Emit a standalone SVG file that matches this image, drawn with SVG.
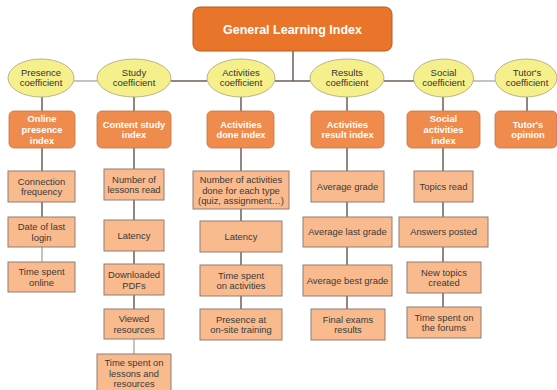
<svg xmlns="http://www.w3.org/2000/svg" width="557" height="390" viewBox="0 0 557 390">
<style>
.bg{fill:#ffffff}
.top{fill:#e8752a;stroke:#b85a1c;stroke-width:1}
.ell{fill:#f5f08c;stroke:#a8a27a;stroke-width:0.8}
.idx{fill:#ef8b4d;stroke:#c9723c;stroke-width:0.8}
.box{fill:#f9ba8d;stroke:#8f7f74;stroke-width:1}
.ln{stroke:#6e5e57;stroke-width:1.5;fill:none}
.lt{stroke:#b6aea9;stroke-width:1.5;fill:none}
text{font-family:"Liberation Sans",Arial,sans-serif;text-anchor:middle}
.tt{font-size:12.5px;font-weight:bold;fill:#ffffff}
.et{font-size:9.5px;fill:#333333}
.it{font-size:9.3px;font-weight:bold;fill:#ffffff}
.bt{font-size:9.4px;fill:#3a3a3a}
</style>
<rect class="bg" x="0" y="0" width="557" height="390"/>
<g id="connectors">
<line class="ln" x1="293" y1="51" x2="293" y2="81"/>
<line class="lt" x1="74" y1="81" x2="97" y2="81"/>
<line class="ln" x1="171" y1="81" x2="207" y2="81"/>
<line class="ln" x1="275" y1="81" x2="310" y2="81"/>
<line class="ln" x1="384" y1="81" x2="414" y2="81"/>
<line class="lt" x1="473" y1="81" x2="495" y2="81"/>
<line class="ln" x1="42" y1="97" x2="42" y2="111"/>
<line class="ln" x1="42" y1="148" x2="42" y2="171"/>
<line class="ln" x1="42" y1="202" x2="42" y2="217"/>
<line class="lt" x1="42" y1="247" x2="42" y2="262"/>
<line class="ln" x1="134" y1="97" x2="134" y2="111"/>
<line class="ln" x1="134" y1="148" x2="134" y2="169"/>
<line class="ln" x1="134" y1="200" x2="134" y2="220"/>
<line class="ln" x1="134" y1="251" x2="134" y2="264"/>
<line class="ln" x1="134" y1="295" x2="134" y2="309"/>
<line class="lt" x1="134" y1="339" x2="134" y2="354"/>
<line class="ln" x1="241" y1="97" x2="241" y2="111"/>
<line class="ln" x1="241" y1="148" x2="241" y2="171"/>
<line class="ln" x1="241" y1="209" x2="241" y2="221"/>
<line class="ln" x1="241" y1="252" x2="241" y2="265"/>
<line class="ln" x1="241" y1="296" x2="241" y2="309"/>
<line class="ln" x1="347" y1="97" x2="347" y2="111"/>
<line class="ln" x1="347" y1="148" x2="347" y2="171"/>
<line class="ln" x1="347" y1="202" x2="347" y2="217"/>
<line class="ln" x1="347" y1="247" x2="347" y2="265"/>
<line class="ln" x1="347" y1="296" x2="347" y2="309"/>
<line class="ln" x1="443" y1="97" x2="443" y2="111"/>
<line class="ln" x1="443" y1="148" x2="443" y2="171"/>
<line class="ln" x1="443" y1="202" x2="443" y2="217"/>
<line class="ln" x1="443" y1="247" x2="443" y2="262"/>
<line class="ln" x1="443" y1="293" x2="443" y2="307"/>
<line class="ln" x1="527" y1="97" x2="527" y2="111"/>
</g>
<g id="general">
<rect class="top" x="193" y="7" width="199" height="44" rx="7"/>
<text class="tt" x="292.5" y="33.5">General Learning Index</text>
</g>
<g id="presence-coef"><ellipse class="ell" cx="41" cy="78" rx="33" ry="19"/><text class="et" x="41" y="75.5">Presence</text><text class="et" x="41" y="86.3">coefficient</text></g>
<g id="study-coef"><ellipse class="ell" cx="134" cy="78" rx="37" ry="19"/><text class="et" x="134" y="75.5">Study</text><text class="et" x="134" y="86.3">coefficient</text></g>
<g id="activities-coef"><ellipse class="ell" cx="241" cy="78" rx="34" ry="19"/><text class="et" x="241" y="75.5">Activities</text><text class="et" x="241" y="86.3">coefficient</text></g>
<g id="results-coef"><ellipse class="ell" cx="347" cy="78" rx="37" ry="19"/><text class="et" x="347" y="75.5">Results</text><text class="et" x="347" y="86.3">coefficient</text></g>
<g id="social-coef"><ellipse class="ell" cx="443.5" cy="78" rx="30" ry="19"/><text class="et" x="443.5" y="75.5">Social</text><text class="et" x="443.5" y="86.3">coefficient</text></g>
<g id="tutor-coef"><ellipse class="ell" cx="526" cy="78" rx="31" ry="19"/><text class="et" x="527" y="75.5">Tutor's</text><text class="et" x="527" y="86.3">coefficient</text></g>
<g id="online-presence"><rect class="idx" x="9" y="111" width="66" height="37" rx="5"/><text class="it" x="42" y="122.3">Online</text><text class="it" x="42" y="133">presence</text><text class="it" x="42" y="143.7">index</text></g>
<g id="content-study"><rect class="idx" x="97" y="111" width="74" height="37" rx="5"/><text class="it" x="134" y="127.6">Content study</text><text class="it" x="134" y="138.3">index</text></g>
<g id="activities-done"><rect class="idx" x="207" y="111" width="67" height="37" rx="5"/><text class="it" x="241" y="127.6">Activities</text><text class="it" x="241" y="138.3">done index</text></g>
<g id="activities-result"><rect class="idx" x="311" y="111" width="73" height="37" rx="5"/><text class="it" x="347.5" y="127.6">Activities</text><text class="it" x="347.5" y="138.3">result index</text></g>
<g id="social-activities"><rect class="idx" x="407" y="111" width="73" height="37" rx="5"/><text class="it" x="443.5" y="122.3">Social</text><text class="it" x="443.5" y="133">activities</text><text class="it" x="443.5" y="143.7">index</text></g>
<g id="tutor-opinion"><rect class="idx" x="495" y="111" width="62" height="37" rx="5"/><text class="it" x="528" y="127.6">Tutor's</text><text class="it" x="528" y="138.3">opinion</text></g>
<g id="connection-frequency"><rect class="box" x="8" y="171" width="67" height="31"/><text class="bt" x="41.5" y="184.5">Connection</text><text class="bt" x="41.5" y="195.2">frequency</text></g>
<g id="date-last-login"><rect class="box" x="8" y="217" width="67" height="30"/><text class="bt" x="41.5" y="230">Date of last</text><text class="bt" x="41.5" y="240.7">login</text></g>
<g id="time-online"><rect class="box" x="8" y="262" width="67" height="30"/><text class="bt" x="41.5" y="275">Time spent</text><text class="bt" x="41.5" y="285.7">online</text></g>
<g id="lessons-read"><rect class="box" x="104" y="169" width="60" height="31"/><text class="bt" x="134" y="182.5">Number of</text><text class="bt" x="134" y="193.2">lessons read</text></g>
<g id="latency-study"><rect class="box" x="104" y="220" width="60" height="31"/><text class="bt" x="134" y="238.7">Latency</text></g>
<g id="downloaded-pdfs"><rect class="box" x="104" y="264" width="60" height="31"/><text class="bt" x="134" y="278">Downloaded</text><text class="bt" x="134" y="288.7">PDFs</text></g>
<g id="viewed-resources"><rect class="box" x="104" y="309" width="60" height="30"/><text class="bt" x="134" y="322">Viewed</text><text class="bt" x="134" y="332.7">resources</text></g>
<g id="time-lessons"><rect class="box" x="97" y="354" width="74" height="40"/><text class="bt" x="134" y="365.8">Time spent on</text><text class="bt" x="134" y="376.5">lessons and</text><text class="bt" x="134" y="387.2">resources</text></g>
<g id="activities-per-type"><rect class="box" x="193" y="171" width="96" height="38"/><text class="bt" x="241" y="183">Number of activities</text><text class="bt" x="241" y="193.7">done for each type</text><text class="bt" x="241" y="204.4">(quiz, assignment…)</text></g>
<g id="latency-activities"><rect class="box" x="200" y="221" width="82" height="31"/><text class="bt" x="241" y="240">Latency</text></g>
<g id="time-activities"><rect class="box" x="200" y="265" width="82" height="31"/><text class="bt" x="241" y="278.5">Time spent</text><text class="bt" x="241" y="289.2">on activities</text></g>
<g id="presence-training"><rect class="box" x="200" y="309" width="82" height="31"/><text class="bt" x="241" y="322.5">Presence at</text><text class="bt" x="241" y="333.2">on-site training</text></g>
<g id="average-grade"><rect class="box" x="311" y="171" width="73" height="31"/><text class="bt" x="347.5" y="189.7">Average grade</text></g>
<g id="average-last-grade"><rect class="box" x="303" y="217" width="89" height="30"/><text class="bt" x="347.5" y="235.3">Average last grade</text></g>
<g id="average-best-grade"><rect class="box" x="303" y="265" width="89" height="31"/><text class="bt" x="347.5" y="283.8">Average best grade</text></g>
<g id="final-exams"><rect class="box" x="311" y="309" width="74" height="31"/><text class="bt" x="348" y="322.5">Final exams</text><text class="bt" x="348" y="333.2">results</text></g>
<g id="topics-read"><rect class="box" x="414" y="171" width="59" height="31"/><text class="bt" x="443.5" y="189.7">Topics read</text></g>
<g id="answers-posted"><rect class="box" x="399" y="217" width="89" height="30"/><text class="bt" x="443.5" y="235.3">Answers posted</text></g>
<g id="new-topics"><rect class="box" x="407" y="262" width="74" height="31"/><text class="bt" x="444" y="275.5">New topics</text><text class="bt" x="444" y="286.2">created</text></g>
<g id="time-forums"><rect class="box" x="407" y="307" width="74" height="31"/><text class="bt" x="444" y="320.5">Time spent on</text><text class="bt" x="444" y="331.2">the forums</text></g>
</svg>
